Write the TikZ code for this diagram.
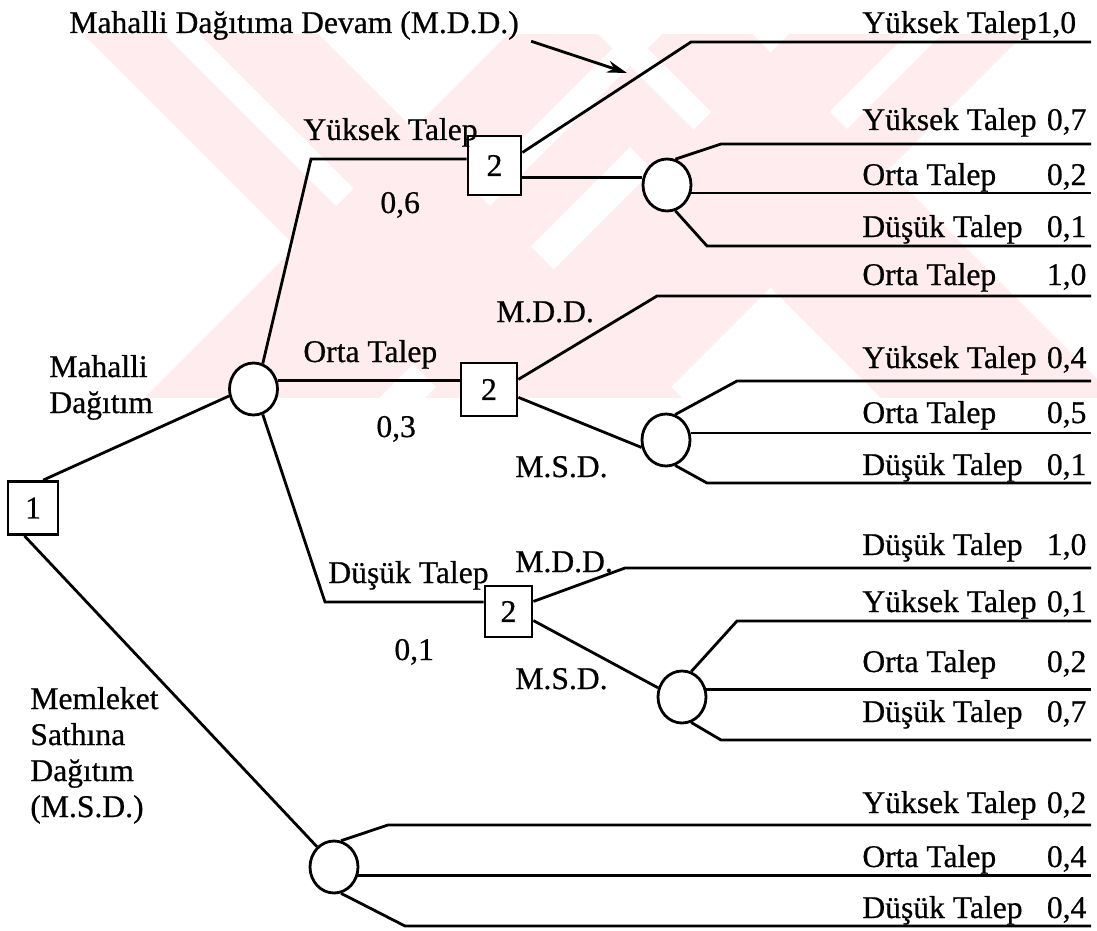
\documentclass[tikz,border=0pt]{standalone}
\usepackage{fontspec}
\setmainfont{Liberation Serif}[UprightFeatures={FakeBold=0.6}]
\usetikzlibrary{shapes.geometric}
\usetikzlibrary{arrows.meta}

\definecolor{wmpink}{RGB}{254,236,239}
\newcommand\outc[2]{\makebox[112pt][l]{#1\hfill#2}}

\begin{document}
\begin{tikzpicture}[x=0.5pt, y=-0.5pt, line width=1.4pt,
  font=\fontsize{15.8}{18}\selectfont,
  dec/.style={draw, fill=white, rectangle, minimum width=25pt, minimum height=26.5pt, inner sep=0pt},
  chance/.style={draw, fill=white, ellipse, minimum width=24pt, minimum height=26pt, inner sep=0pt},
  lbl/.style={anchor=base west, inner sep=0pt},
  arr/.style={-{Stealth[length=10pt,width=6pt]}}]

\useasboundingbox (0,0) rectangle (1097,931);

% watermark in the back
\begin{scope}
\clip (0,35) rectangle (1097,397);
\fill[wmpink] (49,0) -- (284,0) -- (715,431) -- (480,431) -- cycle;
\fill[wmpink] (542,0) -- (777,0) -- (346,431) -- (111,431) -- cycle;
\fill[wmpink] (483,0) -- (718,0) -- (1149,431) -- (914,431) -- cycle;
\fill[wmpink] (823,0) -- (1058,0) -- (627,431) -- (392,431) -- cycle;
\fill[white] (130,0) -- (165,0) -- (353.5,188.5) -- (336,206) -- cycle;
\fill[white] (661,0) -- (696,0) -- (490,206) -- (472.5,188.5) -- cycle;
\fill[white] (564,0) -- (599,0) -- (711,112) -- (693.5,129.5) -- cycle;
\fill[white] (941,0) -- (976,0) -- (847,129) -- (829.5,111.5) -- cycle;
\end{scope}

% decision and chance nodes
\node[dec] (b1) at (33,508) {1};
\node[dec, minimum width=26.5pt, minimum height=29.5pt] (b2a) at (494.5,165.5) {2};
\node[dec, minimum width=28pt] (b2b) at (489,389.5) {2};
\node[dec, minimum width=23.5pt, minimum height=25.5pt] (b2c) at (508.5,611.5) {2};

\node[chance] (c1) at (253.5,389) {};
\node[chance] (c2) at (667,185) {};
\node[chance] (c3) at (666,440) {};
\node[chance] (c5) at (682,697) {};
\node[chance] (c4) at (334,867) {};

% bends
\coordinate (rx) at (1091,0);
\coordinate (k1) at (311,159);
\coordinate (k2) at (325,602);
\coordinate (k3) at (691,42);
\coordinate (k4) at (721,144);
\coordinate (k5) at (707,246);
\coordinate (k6) at (657,296);
\coordinate (k7) at (737,381);
\coordinate (k8) at (707,483);
\coordinate (k9) at (625,568);
\coordinate (k10) at (737,621);
\coordinate (k11) at (721,740);
\coordinate (k12) at (388,825);
\coordinate (k13) at (405,926);

\draw (b1.70) -- (c1.196);
\draw (b1.253) -- (c4.130);

\draw (c1.70) -- (k1) -- (k1 -| b2a.west);
\draw (c1.20) -- (c1.20 -| b2b.west);
\draw (c1.290) -- (k2) -- (k2 -| b2c.west);

\draw (b2a.25) -- (k3) -- (k3 -| rx);
\draw (b2a.337) -- (b2a.337 -| c2.west);
\draw (c2.72) -- (k4) -- (k4 -| rx);
\draw (c2.342) -- (c2.342 -| rx);
\draw (c2.288) -- (k5) -- (k5 -| rx);

\draw (b2b.19) -- (k6) -- (k6 -| rx);
\draw (b2b.345) -- (c3.197);
\draw (c3.70) -- (k7) -- (k7 -| rx);
\draw (c3.16) -- (c3.16 -| rx);
\draw (c3.290) -- (k8) -- (k8 -| rx);

\draw (b2c.22) -- (k9) -- (k9 -| rx);
\draw (b2c.340) -- (c5.159);
\draw (c5.70) -- (k10) -- (k10 -| rx);
\draw (c5.18) -- (c5.18 -| rx);
\draw (c5.290) -- (k11) -- (k11 -| rx);

\draw (c4.75) -- (k12) -- (k12 -| rx);
\draw (c4.340) -- (c4.340 -| rx);
\draw (c4.285) -- (k13) -- (k13 -| rx);

% texts on the left
\node[lbl] (title) at (68,33) {Mahalli Dağıtıma Devam (M.D.D.)};
\coordinate (arrtip) at (627,73);
\draw[arr] ([xshift=5.5pt]title.south east) -- (arrtip);

% base of a multi-line node is its last line
\node[lbl, align=left] (md) at (48,413) {Mahalli\\Dağıtım};
\node[lbl, align=left] (ms) at (29,817) {Memleket\\Sathına\\Dağıtım\\(M.S.D.)};

\node[lbl] (yt) at (302,140) {Yüksek Talep};
\node[lbl] (p6) at (379,213) {0,6};
\node[lbl] (ot) at (302,362) {Orta Talep};
\node[lbl] (p3) at (375,437) {0,3};
\node[lbl] (dt) at (327,583) {Düşük Talep};
\node[lbl] (p1) at (393,660) {0,1};

\node[lbl] (mdd1) at (495,322) {M.D.D.};
\node[lbl] (msd1) at (514,477) {M.S.D.};
\node[lbl] (mdd2) at (514,572) {M.D.D.};
\node[lbl] (msd2) at (514,689) {M.S.D.};

% outcomes
\node[lbl] (o1) at (861,33) {Yüksek Talep1,0};
\node[lbl] (o2) at (861,130) {\outc{Yüksek Talep}{0,7}};
\node[lbl] (o3) at (861,185) {\outc{Orta Talep}{0,2}};
\node[lbl] (o4) at (861,237) {\outc{Düşük Talep}{0,1}};
\node[lbl] (o5) at (861,285) {\outc{Orta Talep}{1,0}};
\node[lbl] (o6) at (861,368) {\outc{Yüksek Talep}{0,4}};
\node[lbl] (o7) at (861,423) {\outc{Orta Talep}{0,5}};
\node[lbl] (o8) at (861,475) {\outc{Düşük Talep}{0,1}};
\node[lbl] (o9) at (861,555) {\outc{Düşük Talep}{1,0}};
\node[lbl] (o10) at (861,612) {\outc{Yüksek Talep}{0,1}};
\node[lbl] (o11) at (861,672) {\outc{Orta Talep}{0,2}};
\node[lbl] (o12) at (861,722) {\outc{Düşük Talep}{0,7}};
\node[lbl] (o13) at (861,813) {\outc{Yüksek Talep}{0,2}};
\node[lbl] (o14) at (861,867) {\outc{Orta Talep}{0,4}};
\node[lbl] (o15) at (861,918) {\outc{Düşük Talep}{0,4}};

\end{tikzpicture}
\end{document}
